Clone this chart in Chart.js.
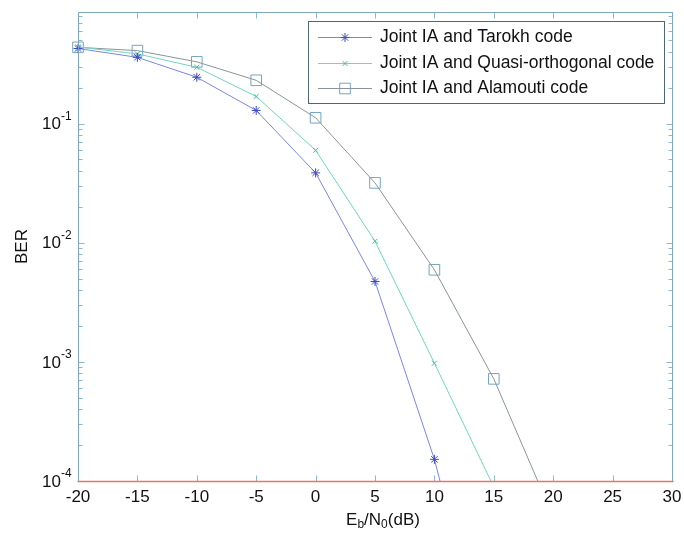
<!DOCTYPE html>
<html>
<head>
<meta charset="utf-8">
<script src="https://cdn.jsdelivr.net/npm/chart.js@4/dist/chart.umd.min.js"></script>
<style>
html,body{margin:0;padding:0;background:#fff;}
canvas{display:block;}
</style>
</head>
<body>
<canvas id="c" width="684" height="536"></canvas>
<script>
// ---- data ----
const snr = [-20, -15, -10, -5, 0, 5, 10, 15, 20];
const berTarokh = [0.427, 0.36, 0.245, 0.129, 0.0386, 0.00473, 0.000152, 0.0000018];
const berQuasi = [0.44, 0.385, 0.297, 0.169, 0.0597, 0.0103, 0.000975, 0.000089];
const berAlamouti = [0.437, 0.41, 0.33, 0.231, 0.112, 0.0318, 0.00593, 0.00072, 0.00005];
const seriesLabels = ['Joint IA and Tarokh code', 'Joint IA and Quasi-orthogonal code', 'Joint IA and Alamouti code'];
const xTickValues = [-20, -15, -10, -5, 0, 5, 10, 15, 20, 25, 30];
const yTickExponents = [-1, -2, -3, -4];
const yLabel = 'BER';

const FONT = '"Liberation Sans", Arial, sans-serif';

function pts(vals){ return vals.map((v,i)=>({x: snr[i], y: v})); }

const styles = [
  {line:'#7b86e0', mark:'#3a4ac4', shape:'star', r:4.5},
  {line:'#6fd6c0', mark:'#4fb89e', shape:'crossRot', r:3.5},
  {line:'#8a9498', mark:'#76a4bc', shape:'rect', r:7.5}
];
const seriesData = [berTarokh, berQuasi, berAlamouti];

const datasets = seriesData.map((d,i)=>({
  label: seriesLabels[i],
  data: pts(d),
  borderColor: styles[i].line,
  borderWidth: 1,
  pointStyle: styles[i].shape,
  pointRadius: styles[i].r,
  pointBorderColor: styles[i].mark,
  pointBackgroundColor: 'rgba(0,0,0,0)',
  pointBorderWidth: 1,
  tension: 0,
  fill: false,
  clip: {left: 12, top: 0, right: 0, bottom: 0}
}));

const decorations = {
  id: 'decorations',
  afterDatasetsDraw(chart){
    const ctx = chart.ctx, a = chart.chartArea, x = chart.scales.x, y = chart.scales.y;
    ctx.save();
    const L = Math.round(a.left)+0.5, R = Math.round(a.right)+0.5, T = Math.round(a.top)+0.5, B = Math.round(a.bottom)+0.5;
    function seg(x1,y1,x2,y2){ ctx.beginPath(); ctx.moveTo(x1,y1); ctx.lineTo(x2,y2); ctx.stroke(); }
    // ticks
    ctx.strokeStyle = '#8fb8cc'; ctx.lineWidth = 1;
    xTickValues.forEach(v=>{
      const px = Math.round(x.getPixelForValue(v))+0.5;
      seg(px, B, px, B-6);
      seg(px, T, px, T+6);
    });
    for (let e=-4; e<=0; e++){
      for (let m=1; m<=9; m++){
        const v = m*Math.pow(10,e);
        if (v < y.min*0.999 || v > y.max*1.001) continue;
        const py = Math.round(y.getPixelForValue(v))+0.5;
        const len = (m===1)?6:4;
        seg(L, py, L+len, py);
        seg(R, py, R-len, py);
      }
    }
    // axis box
    ctx.lineWidth = 1;
    ctx.strokeStyle = '#7da7bd';
    seg(L, T, R, T);
    seg(R, T, R, B);
    seg(L, T, L, B);
    ctx.strokeStyle = '#e6785c';
    ctx.lineWidth = 1.5;
    seg(L-1, B, R+1, B);

    // x tick labels
    ctx.fillStyle = '#111';
    ctx.font = '17px ' + FONT;
    ctx.textAlign = 'center'; ctx.textBaseline = 'middle';
    xTickValues.forEach(v=>{
      ctx.fillText(String(v), x.getPixelForValue(v), 497);
    });
    // y tick labels 10^e
    yTickExponents.forEach(e=>{
      const py = y.getPixelForValue(Math.pow(10,e));
      ctx.font = '17px ' + FONT;
      ctx.textAlign = 'right'; ctx.textBaseline = 'middle';
      ctx.fillText('10', 61, py+1);
      ctx.font = '12px ' + FONT;
      ctx.textAlign = 'left';
      ctx.fillText(String(e), 61, py-7);
    });
    // y label
    ctx.save();
    ctx.translate(22, (a.top+a.bottom)/2);
    ctx.rotate(-Math.PI/2);
    ctx.font = '17px ' + FONT;
    ctx.textAlign = 'center'; ctx.textBaseline = 'middle';
    ctx.fillText(yLabel, 0, 0);
    ctx.restore();
    // x label E_b/N_0(dB)
    const parts = [['E',17,0],['b',12,5],['/N',17,0],['0',12,5],['(dB)',17,0]];
    let total = 0;
    parts.forEach(p=>{ ctx.font = p[1]+'px '+FONT; total += ctx.measureText(p[0]).width; });
    let cx = 383 - total/2;
    ctx.textAlign = 'left'; ctx.textBaseline = 'middle';
    parts.forEach(p=>{
      ctx.font = p[1]+'px '+FONT;
      ctx.fillText(p[0], cx, 520 + p[2]);
      cx += ctx.measureText(p[0]).width;
    });

    // legend
    const lx = 308.5, ly = 21.5, lw = 356, lh = 82;
    ctx.fillStyle = '#fff';
    ctx.fillRect(lx, ly, lw, lh);
    ctx.strokeStyle = '#4e6872'; ctx.lineWidth = 1;
    ctx.strokeRect(lx, ly, lw, lh);
    chart.data.datasets.forEach((ds,i)=>{
      const ry = 37 + i*25.7;
      const py = Math.round(ry)+0.5;
      ctx.strokeStyle = ds.borderColor; ctx.lineWidth = 1;
      seg(318, py, 372, py);
      ctx.strokeStyle = ds.pointBorderColor;
      ctx.fillStyle = 'rgba(0,0,0,0)';
      Chart.helpers.drawPoint(ctx, {pointStyle: ds.pointStyle, radius: ds.pointRadius, borderWidth: 1}, 345, py);
      ctx.fillStyle = '#111';
      ctx.font = '17.5px ' + FONT;
      ctx.textAlign = 'left'; ctx.textBaseline = 'middle';
      ctx.fillText(ds.label, 380, ry);
    });
    ctx.restore();
  }
};

new Chart(document.getElementById('c'), {
  type: 'line',
  data: { datasets },
  options: {
    responsive: false,
    animation: false,
    devicePixelRatio: 1,
    layout: { padding: { left: 78, right: 12, top: 12, bottom: 55 } },
    plugins: { legend: { display: false }, tooltip: { enabled: false } },
    scales: {
      x: { type: 'linear', min: -20, max: 30, display: false },
      y: { type: 'logarithmic', min: 0.0001, max: 0.865, display: false }
    }
  },
  plugins: [decorations]
});
</script>
</body>
</html>
